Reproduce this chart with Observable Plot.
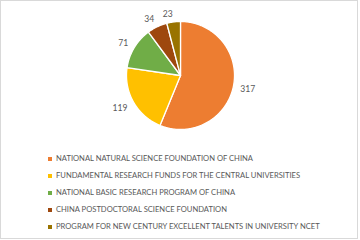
<!DOCTYPE html>
<html>
<head>
<meta charset="utf-8">
<script src="https://cdn.jsdelivr.net/npm/d3@7"></script>
<script src="https://cdn.jsdelivr.net/npm/@observablehq/plot@0.6"></script>
<style>
  html, body { margin: 0; padding: 0; background: #fff; }
  #wrap { position: relative; width: 360px; height: 240px; overflow: hidden; font-family: Lato, "Open Sans", sans-serif; }
  #frame { position: absolute; left: 0; top: 0; width: 358px; height: 239px; box-sizing: border-box; border: 1px solid #d9d9d9; pointer-events: none; }
  #chart svg { display: block; }
  #legend { position: absolute; left: 48px; top: 150px; }
  .item { height: 17px; line-height: 17px; font-size: 7.6px; color: #595959; white-space: nowrap; display: flex; align-items: center; }
  .sw { width: 4px; height: 4px; margin-right: 4px; flex: none; }
</style>
</head>
<body>
<div id="wrap">
  <div id="chart"></div>
  <div id="legend"></div>
  <div id="frame"></div>
</div>
<script>
const categories = [
  "NATIONAL NATURAL SCIENCE FOUNDATION OF CHINA",
  "FUNDAMENTAL RESEARCH FUNDS FOR THE CENTRAL UNIVERSITIES",
  "NATIONAL BASIC RESEARCH PROGRAM OF CHINA",
  "CHINA POSTDOCTORAL SCIENCE FOUNDATION",
  "PROGRAM FOR NEW CENTURY EXCELLENT TALENTS IN UNIVERSITY NCET"
];
const values = [317, 119, 71, 34, 23];
const colors = ["#ED7D31", "#FFC000", "#70AD47", "#9E480E", "#997300"];

// slice geometry from d3.pie (start at 12 o'clock, clockwise, data order)
const arcs = d3.pie().sort(null).value(d => d)(values);
const polys = [];
arcs.forEach((a, i) => {
  const n = Math.max(2, Math.ceil((a.endAngle - a.startAngle) / 0.01));
  polys.push({cat: categories[i], x: 0, y: 0});
  for (let k = 0; k <= n; k++) {
    const t = a.startAngle + (a.endAngle - a.startAngle) * k / n;
    polys.push({cat: categories[i], x: Math.sin(t), y: Math.cos(t)});
  }
  polys.push({cat: categories[i], x: 0, y: 0});
});
const LR = 1.13;
const labels = arcs.map((a, i) => {
  const m = (a.startAngle + a.endAngle) / 2;
  return {v: values[i], x: LR * Math.sin(m), y: LR * Math.cos(m), right: Math.sin(m) >= 0, top: Math.cos(m) > 0.3};
});

const lbl = {fill: "#595959", fontSize: 8.6, fontFamily: "Lato, sans-serif"};
const chart = Plot.plot({
  width: 360,
  height: 150,
  margin: 0,
  x: {domain: [-1, 1], range: [126, 234], axis: null},
  y: {domain: [-1, 1], range: [129, 21], axis: null},
  color: {domain: categories, range: colors},
  style: {background: "transparent"},
  marks: [
    Plot.line(polys, {x: "x", y: "y", z: "cat", fill: "cat", stroke: "#fff", strokeWidth: 1.3, curve: "linear-closed"}),
    Plot.text(labels.filter(d => d.right), {x: "x", y: "y", text: "v", textAnchor: "start", dy: 2, ...lbl}),
    Plot.text(labels.filter(d => !d.right && !d.top), {x: "x", y: "y", text: "v", textAnchor: "end", dy: 3, ...lbl}),
    Plot.text(labels.filter(d => !d.right && d.top), {x: "x", y: "y", text: "v", textAnchor: "end", dy: -1, ...lbl})
  ]
});
document.getElementById("chart").appendChild(chart);

const legend = document.getElementById("legend");
categories.forEach((c, i) => {
  const row = document.createElement("div");
  row.className = "item";
  const sw = document.createElement("span");
  sw.className = "sw";
  sw.style.background = colors[i];
  const tx = document.createElement("span");
  tx.textContent = c;
  row.appendChild(sw);
  row.appendChild(tx);
  legend.appendChild(row);
});
</script>
</body>
</html>
